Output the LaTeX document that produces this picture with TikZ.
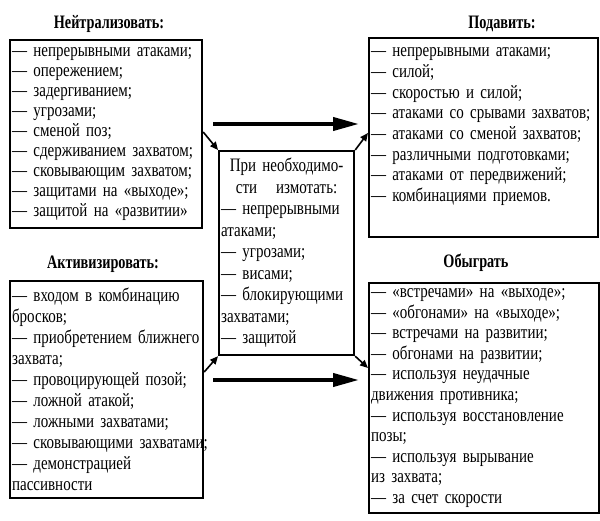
\documentclass[tikz,border=0pt]{standalone}
\usepackage{fontspec}
\setmainfont[FakeStretch=0.79, WordSpace=1.4]{Liberation Serif}
\newfontfamily\headfont[FakeStretch=0.75]{Liberation Serif}
\usetikzlibrary{arrows.meta, positioning, calc}
\exhyphenpenalty=10000
\hyphenpenalty=10000

\begin{document}
\begin{tikzpicture}[x=1pt, y=-1pt,
  box/.style={draw, line width=2.2pt, rectangle, anchor=north west, align=left,
    inner xsep=2pt, inner ysep=0pt},
  heading/.style={font=\fontsize{19}{20}\headfont\bfseries},
  bigarrow/.style={line width=4pt, -{Triangle[length=26pt, width=13pt]}},
  smallarrow/.style={line width=1.6pt, -{Triangle[length=8pt, width=7pt]}}]
  \useasboundingbox (0,0) rectangle (600,521);
  % upper pair of boxes
  \node[box, text width=188pt, minimum height=188pt, font=\fontsize{19}{20}\selectfont] (neut) at (9,39)
    {--- непрерывными атаками;\\ --- опережением;\\ --- задергиванием;\\ --- угрозами;\\
     --- сменой поз;\\ --- сдерживанием~захватом;\\ --- сковывающим~захватом;\\
     --- защитами на «выходе»;\\ --- защитой на «развитии»};
  \node[heading] (neuttitle) at (109,24) {Нейтрализовать:};
  \node[box, text width=225pt, minimum height=199pt, font=\fontsize{19}{20.7}\selectfont] (podav) at (368,37)
    {--- непрерывными атаками;\\ --- силой;\\ --- скоростью и силой;\\ \mbox{--- атаками со срывами захватов;}\\
     \mbox{--- атаками со сменой захватов;}\\ --- различными подготовками;\\ --- атаками от передвижений;\\
     --- комбинациями приемов.\rule[-26pt]{0pt}{26pt}};
  \node[heading] (podavtitle) at (502,24) {Подавить:};
  % lower pair of boxes
  \node[box, text width=189pt, minimum height=217pt, font=\fontsize{19}{21}\selectfont] (aktiv) at (9,280)
    {\mbox{--- входом в комбинацию}\\ бросков;\\ \mbox{--- приобретением ближнего}\\ захвата;\\
     \mbox{--- провоцирующей позой;}\\ --- ложной атакой;\\ --- ложными захватами;\\
     \mbox{--- сковывающими захватами;}\\ --- демонстрацией\\ пассивности};
  \node[heading] (aktivtitle) at (103,264) {Активизировать:};
  \node[box, text width=226pt, minimum height=230pt, font=\fontsize{19}{20.6}\selectfont] (obygr) at (368,282)
    {--- «встречами» на «выходе»;\\ --- «обгонами» на «выходе»;\\ --- встречами на развитии;\\
     --- обгонами на развитии;\\ --- используя неудачные\\ движения противника;\\
     \mbox{--- используя восстановление}\\ позы;\\ --- используя вырывание\\ из захвата;\\ --- за счет скорости};
  \node[heading] (obygrtitle) at (476,263) {Обыграть};
  % middle box
  \node[box, text width=131pt, minimum height=204pt, font=\fontsize{19}{21.5}\selectfont] (mid) at (218,150)
    {\makebox[\linewidth]{При необходимо-}\\ \makebox[\linewidth]{сти\quad измотать:}\\
     \mbox{--- непрерывными}\\ атаками;\\ --- угрозами;\\ --- висами;\\ \mbox{--- блокирующими}\\ захватами;\\ --- защитой};
  % thick arrows
  \coordinate (ua1) at (213,124);
  \coordinate (ua2) at (359,124);
  \coordinate (la1) at (213,380);
  \coordinate (la2) at (359,380);
  \draw[bigarrow] (ua1) -- (ua2);
  \draw[bigarrow] (la1) -- (la2);
  % small arrows to and from the middle box
  \draw[smallarrow] (neut.east |- 0,132) -- (mid.north west);
  \draw[smallarrow] (mid.north east) -- (podav.west |- 0,133);
  \draw[smallarrow] (aktiv.east |- 0,372) -- (mid.south west);
  \draw[smallarrow] (mid.south east) -- (obygr.west |- 0,368);
\end{tikzpicture}
\end{document}
